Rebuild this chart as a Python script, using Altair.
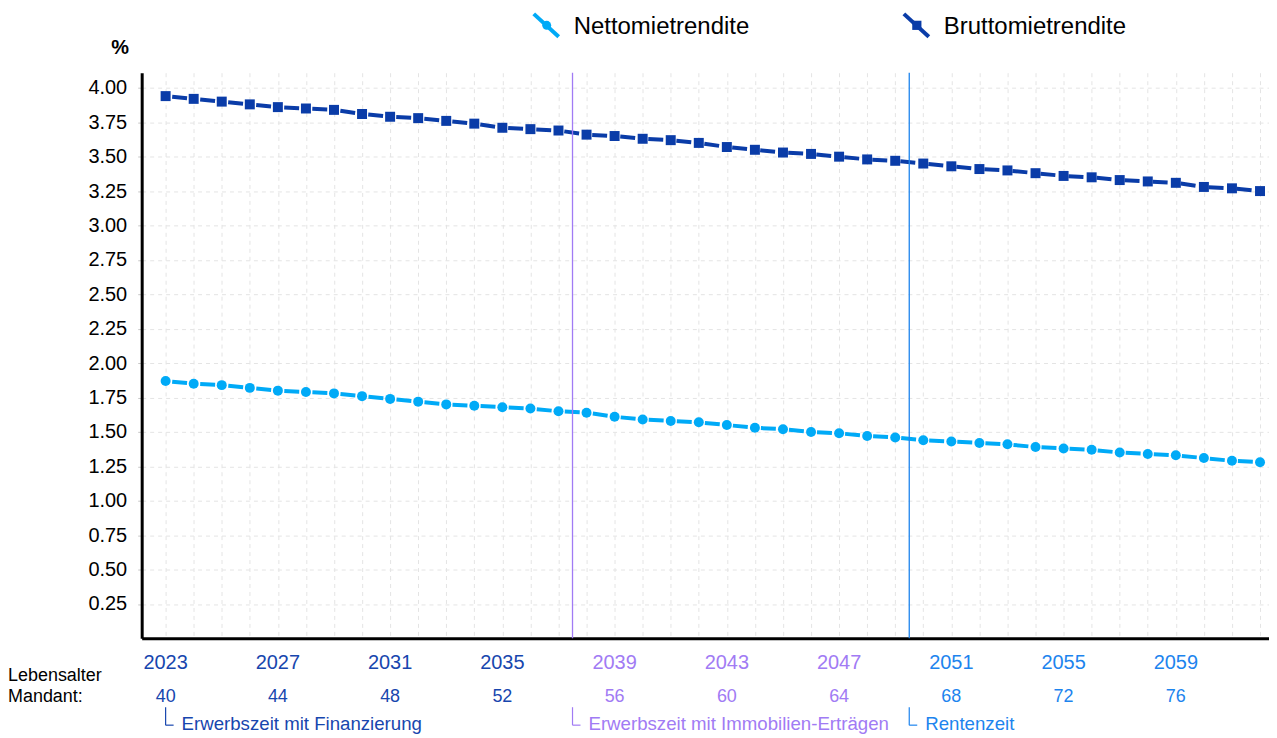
import altair as alt
import pandas as pd

# ---------------- data ----------------
years = list(range(2023, 2063))
netto = [1.87, 1.85, 1.84, 1.82, 1.80, 1.79, 1.78, 1.76, 1.74, 1.72,
         1.70, 1.69, 1.68, 1.67, 1.65, 1.64, 1.61, 1.59, 1.58, 1.57,
         1.55, 1.53, 1.52, 1.50, 1.49, 1.47, 1.46, 1.44, 1.43, 1.42,
         1.41, 1.39, 1.38, 1.37, 1.35, 1.34, 1.33, 1.31, 1.29, 1.28]
brutto = [3.94, 3.92, 3.90, 3.88, 3.86, 3.85, 3.84, 3.81, 3.79, 3.78,
          3.76, 3.74, 3.71, 3.70, 3.69, 3.66, 3.65, 3.63, 3.62, 3.60,
          3.57, 3.55, 3.53, 3.52, 3.50, 3.48, 3.47, 3.45, 3.43, 3.41,
          3.40, 3.38, 3.36, 3.35, 3.33, 3.32, 3.31, 3.28, 3.27, 3.25]
series_names = ["Nettomietrendite", "Bruttomietrendite"]

y_ticks = [0.25, 0.50, 0.75, 1.00, 1.25, 1.50, 1.75, 2.00,
           2.25, 2.50, 2.75, 3.00, 3.25, 3.50, 3.75, 4.00]
label_years = [2023, 2027, 2031, 2035, 2039, 2043, 2047, 2051, 2055, 2059]
label_ages = [40, 44, 48, 52, 56, 60, 64, 68, 72, 76]

phase_keys = ["p1", "p2", "p3"]
phase_starts = [2023, 2037.5, 2049.5]
phase_names = ["Erwerbszeit mit Finanzierung",
               "Erwerbszeit mit Immobilien-Erträgen",
               "Rentenzeit"]
age_title = ["Lebensalter", "Mandant:"]

# ---------------- styles ----------------
FONT = "Liberation Sans"
series_colors = ["#00aaf7", "#0a3ca8"]
phase_colors = ["#1746ae", "#a17bf4", "#1d84ee"]

df = pd.DataFrame({
    "year": years * 2,
    "value": netto + brutto,
    "series": [series_names[0]] * len(years) + [series_names[1]] * len(years),
})
labels_df = pd.DataFrame({"year": label_years, "age": label_ages})
phase_df = pd.DataFrame({"start": phase_starts, "name": phase_names, "key": phase_keys})
div_df = phase_df.iloc[1:].copy()

phase_expr = (f"datum.year < {phase_starts[1]} ? '{phase_keys[0]}' : "
              f"(datum.year < {phase_starts[2]} ? '{phase_keys[1]}' : '{phase_keys[2]}')")

xscale = alt.Scale(domain=[2022.147, 2062.32], nice=False, zero=False)
yscale = alt.Scale(domain=[0, 4.11], nice=False, zero=True)
series_color = alt.Color("series:N", scale=alt.Scale(domain=series_names, range=series_colors), legend=None)
phase_color = alt.Color("key:N", scale=alt.Scale(domain=phase_keys, range=phase_colors), legend=None)

x_axis = alt.Axis(values=years, labels=False, ticks=False, title=None,
                  domainColor="black", domainWidth=3,
                  grid=True, gridDash=[4, 4], gridColor="#e4e4e4", gridWidth=1)
y_axis = alt.Axis(values=y_ticks, format=".2f", labelFont=FONT, labelFontSize=20,
                  labelColor="black", labelPadding=11, tickSize=4, tickColor="#c8c8c8",
                  domainColor="black", domainWidth=3,
                  grid=True, gridDash=[4, 4], gridColor="#e4e4e4", gridWidth=1,
                  title="%", titleAngle=0, titleFont=FONT, titleFontSize=20,
                  titleFontWeight="bold", titleColor="black", titleX=-22, titleY=-25,
                  titleAlign="center", titleBaseline="middle")

X = lambda f: alt.X(f, scale=xscale, axis=x_axis)

lines = alt.Chart(df).mark_line(strokeWidth=4, strokeDash=[15, 13.2], strokeDashOffset=21.6).encode(
    x=X("year:Q"),
    y=alt.Y("value:Q", scale=yscale, axis=y_axis),
    color=series_color,
    detail="series:N",
)
points = alt.Chart(df).mark_point(filled=True, size=100, opacity=1).encode(
    x=X("year:Q"),
    y=alt.Y("value:Q", scale=yscale, axis=y_axis),
    color=series_color,
    shape=alt.Shape("series:N", scale=alt.Scale(domain=series_names, range=["circle", "square"]), legend=None),
)

dividers = alt.Chart(div_df).mark_rule(strokeWidth=1.3).encode(
    x=X("start:Q"),
    color=phase_color,
)

# positions below are relative to the plot area's top-left corner
year_labels = alt.Chart(labels_df).transform_calculate(key=phase_expr).mark_text(
    font=FONT, fontSize=20, align="center", baseline="middle").encode(
    x=X("year:Q"),
    y=alt.value(592),
    text=alt.Text("year:Q", format="d"),
    color=phase_color,
)
age_labels = alt.Chart(labels_df).transform_calculate(key=phase_expr).mark_text(
    font=FONT, fontSize=18, align="center", baseline="middle").encode(
    x=X("year:Q"),
    y=alt.value(626),
    text=alt.Text("age:Q", format="d"),
    color=phase_color,
)
age_title1 = alt.Chart(pd.DataFrame({"t": [age_title[0]]})).mark_text(
    font=FONT, fontSize=18, align="left", baseline="middle", color="black").encode(
    x=alt.value(-134), y=alt.value(605), text="t:N")
age_title2 = alt.Chart(pd.DataFrame({"t": [age_title[1]]})).mark_text(
    font=FONT, fontSize=18, align="left", baseline="middle", color="black").encode(
    x=alt.value(-134), y=alt.value(626), text="t:N")

phase_vert = alt.Chart(phase_df).mark_rule(strokeWidth=1.2).encode(
    x=X("start:Q"),
    y=alt.value(636), y2=alt.value(654),
    color=phase_color,
)
phase_horiz = alt.Chart(phase_df).mark_rule(strokeWidth=1.2, x2Offset=8).encode(
    x=X("start:Q"),
    x2="start:Q",
    y=alt.value(654),
    color=phase_color,
)
phase_text = alt.Chart(phase_df).mark_text(
    font=FONT, fontSize=18.7, align="left", baseline="alphabetic", dx=16).encode(
    x=X("start:Q"),
    y=alt.value(659),
    text="name:N",
    color=phase_color,
)

# ---------------- legend (drawn) ----------------
def legend_item(i, x0, shape, size):
    d = pd.DataFrame({"name": [series_names[i]]})
    c = series_colors[i]
    seg = alt.Chart(d).mark_rule(strokeWidth=4, color=c).encode(
        x=alt.value(x0), y=alt.value(-59), x2=alt.value(x0 + 25), y2=alt.value(-36))
    mk = alt.Chart(d).mark_point(filled=True, shape=shape, size=size, color=c, opacity=1).encode(
        x=alt.value(x0 + 13), y=alt.value(-47.5))
    tx = alt.Chart(d).mark_text(font=FONT, fontSize=24, align="left", baseline="middle",
                                color="black").encode(
        x=alt.value(x0 + 40), y=alt.value(-46), text="name:N")
    return [seg, mk, tx]

legend_layers = legend_item(0, 393, "circle", 80) + legend_item(1, 764, "square", 85)

chart = alt.layer(
    lines, dividers, points,
    year_labels, age_labels, age_title1, age_title2,
    phase_vert, phase_horiz, phase_text,
    *legend_layers,
).resolve_scale(color="independent").properties(
    width=1130, height=567,
    background="white",
    autosize=alt.AutoSizeParams(type="none"),
    padding={"left": 134, "top": 64, "right": 0, "bottom": 99},
).configure_view(strokeWidth=0)

chart.save("out.html", embed_options={"renderer": "svg", "actions": False})
